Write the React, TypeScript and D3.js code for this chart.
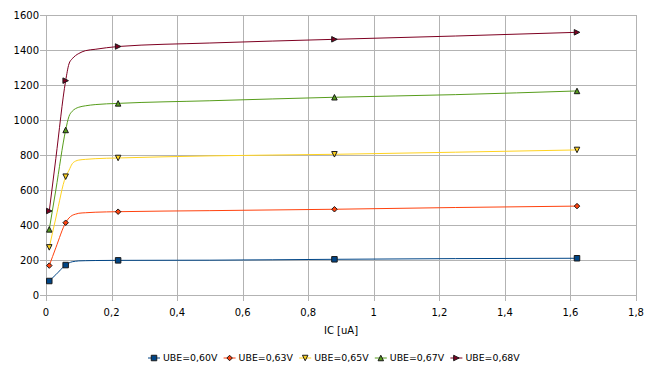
import React from "react";
import * as d3 from "d3";

const xValues = [0.01, 0.03, 0.06, 0.07, 0.08, 0.09, 0.1, 0.12, 0.15, 0.22, 0.5, 0.88, 1.25, 1.62];
const markerIndex = [0, 2, 9, 11, 13];

const seriesNames = ["UBE=0,60V", "UBE=0,63V", "UBE=0,65V", "UBE=0,67V", "UBE=0,68V"];
const ube060 = [80, 116, 171, 183, 190, 193, 195, 196, 197, 198, 199, 204, 208, 210];
const ube063 = [168, 270, 413, 440, 455, 462, 467, 470, 473, 476, 482, 490, 500, 508];
const ube065 = [272, 440, 676, 712, 750, 765, 771, 775, 779, 783, 795, 804, 816, 829];
const ube067 = [375, 600, 943, 1020, 1050, 1065, 1073, 1081, 1088, 1095, 1110, 1130, 1145, 1166];
const ube068 = [480, 780, 1225, 1320, 1350, 1368, 1380, 1396, 1404, 1420, 1440, 1461, 1480, 1501];
const seriesValues = [ube060, ube063, ube065, ube067, ube068];

const colors = ["#004586", "#ff420e", "#ffd320", "#579d1c", "#7e0021"];
const markerKinds = ["square", "diamond", "down", "up", "right"];

const xTicks = [0, 0.2, 0.4, 0.6, 0.8, 1, 1.2, 1.4, 1.6, 1.8];
const yTicks = [0, 200, 400, 600, 800, 1000, 1200, 1400, 1600];
const xTitle = "IC [uA]";

const W = 671, H = 379;
const plot = { left: 46, right: 636, top: 15, bottom: 295 };
const FONT = "DejaVu Sans, sans-serif";

function markerPath(kind: string, s: number): string {
  const h = s / 2;
  switch (kind) {
    case "square": return `M${-h},${-h}H${h}V${h}H${-h}Z`;
    case "diamond": return `M0,${-h}L${h},0L0,${h}L${-h},0Z`;
    case "down": return `M${-h},${-h}L${h},${-h}L0,${h}Z`;
    case "up": return `M${-h},${h}L${h},${h}L0,${-h}Z`;
    case "right": return `M${-h},${-h}L${h},0L${-h},${h}Z`;
  }
  return "";
}

const fmt = (v: number) => String(v).replace(".", ",");

export default function App() {
  const x = d3.scaleLinear().domain([0, 1.8]).range([plot.left, plot.right]);
  const y = d3.scaleLinear().domain([0, 1600]).range([plot.bottom, plot.top]);
  const line = d3.line<[number, number]>()
    .x(d => x(d[0]))
    .y(d => y(d[1]))
    .curve(d3.curveMonotoneX);

  const legendStart = 154;
  const legendStep = 75.6;
  const legendY = 358;

  return (
    <svg width={W} height={H} style={{ position: "absolute", left: 0, top: 0, background: "#fff" }} fontFamily={FONT}>
      <rect x={0} y={0} width={W} height={H} fill="#fff" />
      {yTicks.map(t => (
        <line key={"gy" + t} x1={plot.left - 6} x2={plot.right} y1={Math.round(y(t)) + 0.5} y2={Math.round(y(t)) + 0.5} stroke="#b3b3b3" strokeWidth={1} />
      ))}
      {xTicks.map(t => (
        <line key={"gx" + t} x1={Math.round(x(t)) + 0.5} x2={Math.round(x(t)) + 0.5} y1={plot.top} y2={plot.bottom + 6} stroke="#b3b3b3" strokeWidth={1} />
      ))}
      {yTicks.map(t => (
        <text key={"ly" + t} x={39} y={y(t)} dy="0.35em" textAnchor="end" fontSize={10} fill="#000">{t}</text>
      ))}
      {xTicks.map(t => (
        <text key={"lx" + t} x={x(t)} y={316} textAnchor="middle" fontSize={10} fill="#000">{fmt(t)}</text>
      ))}
      <text x={(plot.left + plot.right) / 2} y={334} textAnchor="middle" fontSize={10} fill="#000">{xTitle}</text>
      {seriesValues.map((vals, i) => {
        const pts: [number, number][] = xValues.map((xv, j) => [xv, vals[j]]);
        return (
          <g key={"s" + i}>
            <path d={line(pts) || ""} fill="none" stroke={colors[i]} strokeWidth={1} />
            {markerIndex.map(j => (
              <path key={j} d={markerPath(markerKinds[i], 5.5)} transform={`translate(${x(xValues[j])},${y(vals[j])})`} fill={colors[i]} stroke="#1a1a1a" strokeWidth={1} />
            ))}
          </g>
        );
      })}
      {seriesNames.map((name, i) => {
        const cx = legendStart + i * legendStep;
        return (
          <g key={"lg" + i}>
            <line x1={cx - 6} x2={cx + 6} y1={legendY} y2={legendY} stroke={colors[i]} strokeWidth={1} />
            <path d={markerPath(markerKinds[i], 5.5)} transform={`translate(${cx},${legendY})`} fill={colors[i]} stroke="#1a1a1a" strokeWidth={1} />
            <text x={cx + 9} y={legendY} dy="0.35em" fontSize={9.4} fill="#000">{name}</text>
          </g>
        );
      })}
    </svg>
  );
}
